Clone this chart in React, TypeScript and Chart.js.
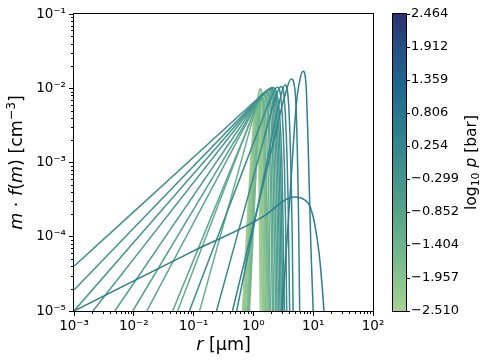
import React, { useEffect, useRef } from 'react';
import { Chart, registerables } from 'chart.js';

Chart.register(...registerables);

// ---- axis ticks ----
const X_TICKS = [1e-3, 1e-2, 1e-1, 1, 10, 100];
const X_TICK_LABELS = ['10⁻³', '10⁻²', '10⁻¹', '10⁰', '10¹', '10²'];
const Y_TICKS = [1e-5, 1e-4, 1e-3, 1e-2, 1e-1];
const Y_TICK_LABELS = ['10⁻⁵', '10⁻⁴', '10⁻³', '10⁻²', '10⁻¹'];
const CB_MIN = -2.51;
const CB_MAX = 2.464;
const CB_TICKS = [-2.51, -1.957, -1.404, -0.852, -0.299, 0.254, 0.806, 1.359, 1.912, 2.464];

// ---- curves: log10(r [um]) and log10(m f(m) [cm^-3]) ----
const G1_LR = [-0.18, 0.0, 0.05, 0.09, 0.12];
const G1_LY = [-5, -2.52, -2.3, -2.7, -5];
const G2_LR = [-0.16, 0.02, 0.07, 0.11, 0.15];
const G2_LY = [-5, -2.42, -2.2, -2.6, -5];
const G3_LR = [-0.14, 0.04, 0.09, 0.13, 0.18];
const G3_LY = [-5, -2.34, -2.12, -2.52, -5];
const G4_LR = [-0.11, 0.067, 0.117, 0.157, 0.21];
const G4_LY = [-5, -2.23, -2.01, -2.41, -5];
const G5_LR = [-0.09, 0.08, 0.13, 0.17, 0.24];
const G5_LY = [-5, -2.3, -2.08, -2.48, -5];
const G6_LR = [-0.07, 0.1, 0.15, 0.19, 0.27];
const G6_LY = [-5, -2.34, -2.12, -2.52, -5];

const WL_LR = [-0.9, -0.16, 0.02, 0.14, 0.2, 0.26, 0.284];
const WL_LY = [-5, -2.854, -2.34, -2.11, -2.311, -3.631, -5];
const WJ_LR = [-1.267, -0.14, 0.04, 0.16, 0.22, 0.28, 0.3, 0.317];
const WJ_LY = [-5, -2.63, -2.257, -2.09, -2.236, -3.193, -3.997, -5];
const WI_LR = [-1.35, -0.12, 0.06, 0.18, 0.24, 0.3, 0.32, 0.339];
const WI_LY = [-5, -2.584, -2.236, -2.08, -2.216, -3.11, -3.861, -5];
const WH_LR = [-1.783, -0.1, 0.08, 0.2, 0.26, 0.32, 0.36, 0.37];
const WH_LY = [-5, -2.449, -2.18, -2.06, -2.165, -2.855, -4.369, -5];
const WG_LR = [-2.017, -0.08, 0.1, 0.22, 0.28, 0.34, 0.38, 0.395];
const WG_LY = [-5, -2.395, -2.157, -2.05, -2.143, -2.755, -4.1, -5];
const WF_LR = [-2.317, -0.06, 0.12, 0.24, 0.3, 0.36, 0.4, 0.42];
const WF_LY = [-5, -2.333, -2.124, -2.03, -2.112, -2.649, -3.83, -5];
const WE_LR = [-2.683, -0.04, 0.14, 0.26, 0.32, 0.38, 0.42, 0.446];
const WE_LY = [-5, -2.284, -2.102, -2.02, -2.091, -2.559, -3.587, -5];
const WC_LR = [-3, -0.02, 0.16, 0.28, 0.34, 0.4, 0.44, 0.47];
const WC_LY = [-5, -2.247, -2.083, -2.01, -2.074, -2.495, -3.418, -5];
const WB_LR = [-3, 0.0, 0.18, 0.3, 0.36, 0.42, 0.46, 0.494];
const WB_LY = [-4.717, -2.214, -2.066, -2.0, -2.058, -2.437, -3.271, -5];
const WA_LR = [-3, 0.02, 0.2, 0.32, 0.38, 0.44, 0.48, 0.52];
const WA_LY = [-4.398, -2.179, -2.048, -1.99, -2.041, -2.376, -3.11, -5];

const H5_LR = [-1.07, 0.1, 0.28, 0.4, 0.46, 0.52, 0.54, 0.557];
const H5_LY = [-5, -2.527, -2.153, -1.985, -2.131, -3.093, -3.901, -5];
const H4_LR = [-0.617, 0.16, 0.34, 0.46, 0.52, 0.58, 0.606];
const H4_LY = [-5, -2.726, -2.207, -1.975, -2.178, -3.51, -5];
const H3_LR = [-0.28, 0.23, 0.41, 0.53, 0.59, 0.65, 0.664];
const H3_LY = [-5, -2.974, -2.27, -1.955, -2.23, -4.037, -5];
const H2_LR = [-0.35, 0.333, 0.513, 0.633, 0.7, 0.753, 0.774];
const H2_LY = [-5, -2.728, -2.139, -1.876, -2.06, -3.617, -5];
const H1_LR = [0.48, 0.6, 0.72, 0.79, 0.833, 0.88, 0.92, 0.96, 1.0];
const H1_LY = [-5, -3.6, -2.2, -1.84, -1.77, -1.95, -2.9, -4.1, -5];
const D_LR = [-3, -1, 0.2, 0.5, 0.68, 0.85, 0.95, 1.03, 1.1, 1.15, 1.18];
const D_LY = [-5, -4.19, -3.71, -3.52, -3.465, -3.5, -3.6, -3.85, -4.23, -4.67, -5];

// drawing order: first drawn first (light green) ... last drawn on top
const CURVES = [
  { lr: G1_LR, ly: G1_LY, color: '#a3cf93', w: 2 },
  { lr: G2_LR, ly: G2_LY, color: '#99ca92', w: 2 },
  { lr: G3_LR, ly: G3_LY, color: '#8fc591', w: 2 },
  { lr: G4_LR, ly: G4_LY, color: '#86c090', w: 2 },
  { lr: G5_LR, ly: G5_LY, color: '#7cbb8f', w: 2 },
  { lr: G6_LR, ly: G6_LY, color: '#73b68e', w: 2 },
  { lr: WL_LR, ly: WL_LY, color: '#69b08e', w: 1.5 },
  { lr: WJ_LR, ly: WJ_LY, color: '#63ac8d', w: 1.5 },
  { lr: WI_LR, ly: WI_LY, color: '#5da88d', w: 1.5 },
  { lr: WH_LR, ly: WH_LY, color: '#57a48d', w: 1.5 },
  { lr: WG_LR, ly: WG_LY, color: '#51a08d', w: 1.5 },
  { lr: WF_LR, ly: WF_LY, color: '#4c9c8d', w: 1.5 },
  { lr: WE_LR, ly: WE_LY, color: '#47988d', w: 1.5 },
  { lr: WC_LR, ly: WC_LY, color: '#43958d', w: 1.5 },
  { lr: WB_LR, ly: WB_LY, color: '#40928d', w: 1.5 },
  { lr: WA_LR, ly: WA_LY, color: '#3d8f8d', w: 1.5 },
  { lr: H5_LR, ly: H5_LY, color: '#3a8c8e', w: 1.5 },
  { lr: H4_LR, ly: H4_LY, color: '#37898e', w: 1.5 },
  { lr: H3_LR, ly: H3_LY, color: '#34868f', w: 1.5 },
  { lr: H2_LR, ly: H2_LY, color: '#31838f', w: 1.5 },
  { lr: H1_LR, ly: H1_LY, color: '#2e7f8f', w: 1.5 },
  { lr: D_LR, ly: D_LY, color: '#2c7b90', w: 1.5 },
];

const CB_STOPS = [
  [0, '#a5d194'],
  [0.111, '#88c38f'],
  [0.222, '#6db38d'],
  [0.333, '#56a38c'],
  [0.444, '#44958c'],
  [0.555, '#34868d'],
  [0.666, '#27768d'],
  [0.777, '#1f648b'],
  [0.888, '#264f84'],
  [1, '#2c3070'],
];

const FONT = '"DejaVu Sans", sans-serif';

type Part = { t: string; it?: boolean; sup?: boolean; sub?: boolean };

function drawRich(ctx: CanvasRenderingContext2D, parts: Part[], cx: number, by: number, size: number) {
  const fontOf = (p: Part) => `${p.it ? 'italic ' : ''}${p.sup || p.sub ? size * 0.7 : size}px ${FONT}`;
  let total = 0;
  const widths = parts.map((p) => {
    ctx.font = fontOf(p);
    const w = ctx.measureText(p.t).width;
    total += w;
    return w;
  });
  let x = cx - total / 2;
  ctx.textAlign = 'left';
  ctx.textBaseline = 'alphabetic';
  parts.forEach((p, i) => {
    ctx.font = fontOf(p);
    const dy = p.sup ? -size * 0.38 : p.sub ? size * 0.2 : 0;
    ctx.fillText(p.t, x, by + dy);
    x += widths[i];
  });
}

const framePlugin = {
  id: 'frameAndColorbar',
  beforeDraw(chart: any) {
    const ctx = chart.ctx;
    ctx.save();
    ctx.fillStyle = '#ffffff';
    ctx.fillRect(0, 0, chart.width, chart.height);
    ctx.restore();
  },
  afterDraw(chart: any) {
    const ctx: CanvasRenderingContext2D = chart.ctx;
    const { left, right, top, bottom } = chart.chartArea;
    const xs = chart.scales.x;
    const ys = chart.scales.y;
    ctx.save();
    ctx.strokeStyle = '#000';
    ctx.fillStyle = '#000';
    ctx.lineWidth = 1;
    // minor ticks
    ctx.beginPath();
    for (let d = -3; d <= 1; d++) {
      for (let m = 2; m <= 9; m++) {
        const px = Math.round(xs.getPixelForValue(m * Math.pow(10, d))) + 0.5;
        ctx.moveTo(px, bottom);
        ctx.lineTo(px, bottom + 3);
      }
    }
    for (let d = -5; d <= -2; d++) {
      for (let m = 2; m <= 9; m++) {
        const py = Math.round(ys.getPixelForValue(m * Math.pow(10, d))) + 0.5;
        ctx.moveTo(left, py);
        ctx.lineTo(left - 3, py);
      }
    }
    ctx.stroke();
    // frame
    ctx.strokeRect(Math.round(left) - 0.5, Math.round(top) - 0.5, Math.round(right - left) + 1, Math.round(bottom - top) + 1);

    // colorbar
    const cb = chart.scales.cb;
    const yPix = (v: number) => {
      if (cb && cb.bottom > cb.top) return cb.getPixelForValue(v);
      return bottom - ((v - CB_MIN) / (CB_MAX - CB_MIN)) * (bottom - top);
    };
    const x0 = 393;
    const x1 = 406;
    const yTop = yPix(CB_MAX);
    const yBot = yPix(CB_MIN);
    const grad = ctx.createLinearGradient(0, yBot, 0, yTop);
    CB_STOPS.forEach(([f, c]) => grad.addColorStop(f as number, c as string));
    ctx.fillStyle = grad;
    ctx.fillRect(x0, yTop, x1 - x0, yBot - yTop);
    ctx.strokeStyle = '#000';
    ctx.strokeRect(x0 - 0.5, Math.round(yTop) - 0.5, x1 - x0 + 1, Math.round(yBot - yTop) + 1);
    ctx.beginPath();
    CB_TICKS.forEach((v) => {
      const py = Math.round(yPix(v)) + 0.5;
      ctx.moveTo(x1, py);
      ctx.lineTo(x1 + 4, py);
    });
    ctx.stroke();
    ctx.fillStyle = '#000';
    ctx.font = `13px ${FONT}`;
    ctx.textAlign = 'left';
    ctx.textBaseline = 'middle';
    CB_TICKS.forEach((v) => {
      const s = v.toFixed(3).replace('-', '\u2212');
      ctx.fillText(s, x1 + 5, yPix(v));
    });

    // axis titles
    drawRich(ctx, [{ t: 'r', it: true }, { t: ' [μm]' }], (left + right) / 2, 350, 17.5);

    ctx.save();
    ctx.translate(21.5, (top + bottom) / 2);
    ctx.rotate(-Math.PI / 2);
    drawRich(
      ctx,
      [
        { t: 'm', it: true },
        { t: ' · ' },
        { t: 'f', it: true },
        { t: '(' },
        { t: 'm', it: true },
        { t: ') [cm' },
        { t: '−3', sup: true },
        { t: ']' },
      ],
      0,
      0,
      17.5
    );
    ctx.restore();

    ctx.save();
    ctx.translate(476, (top + bottom) / 2);
    ctx.rotate(-Math.PI / 2);
    drawRich(ctx, [{ t: 'log' }, { t: '10', sub: true }, { t: ' ' }, { t: 'p', it: true }, { t: ' [bar]' }], 0, 0, 15.5);
    ctx.restore();

    ctx.restore();
  },
};

export default function App() {
  const ref = useRef<HTMLCanvasElement | null>(null);
  useEffect(() => {
    if (!ref.current) return;
    const datasets = CURVES.map((c) => ({
      data: c.lr.map((v, i) => ({ x: Math.pow(10, v), y: Math.pow(10, c.ly[i]) })),
      borderColor: c.color,
      backgroundColor: c.color,
      borderWidth: c.w,
      pointRadius: 0,
      fill: false,
      cubicInterpolationMode: 'monotone' as const,
    })).reverse();

    const chart = new Chart(ref.current, {
      type: 'line',
      data: { datasets },
      options: {
        responsive: false,
        animation: false,
        devicePixelRatio: 1,
        parsing: false as any,
        layout: { padding: { top: 14, right: 116, left: 0, bottom: 0 } },
        plugins: { legend: { display: false }, tooltip: { enabled: false } },
        events: [],
        scales: {
          x: {
            type: 'logarithmic',
            min: 1e-3,
            max: 1e2,
            afterBuildTicks: (s: any) => {
              s.ticks = X_TICKS.map((v) => ({ value: v }));
            },
            afterFit: (s: any) => {
              s.height = 53;
            },
            ticks: {
              callback: (_v: any, i: number) => X_TICK_LABELS[i],
              autoSkip: false,
              maxRotation: 0,
              color: '#000',
              padding: 2,
              font: { family: FONT, size: 13.5 },
            },
            grid: { drawOnChartArea: false, drawTicks: true, tickLength: 5, tickColor: '#000', tickWidth: 1 },
            border: { display: false },
          },
          y: {
            type: 'logarithmic',
            min: 1e-5,
            max: 1e-1,
            afterBuildTicks: (s: any) => {
              s.ticks = Y_TICKS.map((v) => ({ value: v }));
            },
            afterFit: (s: any) => {
              s.width = 74;
            },
            ticks: {
              callback: (_v: any, i: number) => Y_TICK_LABELS[i],
              autoSkip: false,
              color: '#000',
              padding: 3,
              font: { family: FONT, size: 13.5 },
            },
            grid: { drawOnChartArea: false, drawTicks: true, tickLength: 5, tickColor: '#000', tickWidth: 1 },
            border: { display: false },
          },
          cb: {
            type: 'linear',
            display: false,
            position: 'right',
            min: CB_MIN,
            max: CB_MAX,
          },
        },
      },
      plugins: [framePlugin],
    } as any);
    return () => chart.destroy();
  }, []);

  return (
    <div style={{ position: 'fixed', left: 0, top: 0, width: 489, height: 364, background: '#fff' }}>
      <canvas ref={ref} width={489} height={364} style={{ display: 'block', width: 489, height: 364 }} />
    </div>
  );
}
